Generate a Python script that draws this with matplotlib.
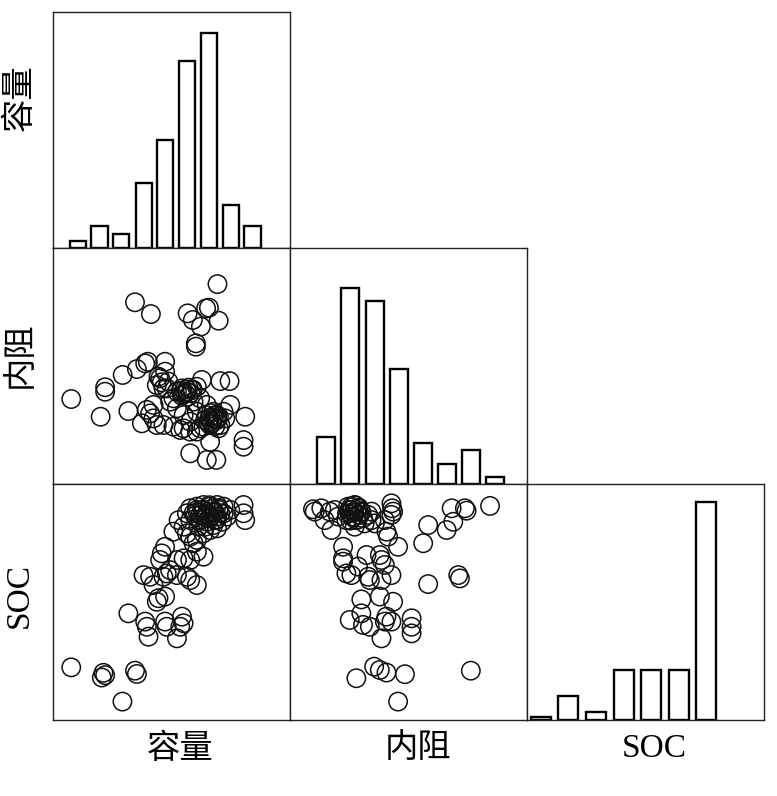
import matplotlib
matplotlib.use("Agg")
import matplotlib.pyplot as plt
import numpy as np

plt.rcParams['font.family'] = ['Liberation Serif', 'Noto Sans CJK SC', 'DejaVu Sans']

names = ["容量", "内阻", "SOC"]

cap_bins = [10.5, 19.6, 28.7, 38.4, 47.3, 56.5, 65.8, 75.1, 84.2]
cap_counts = [1, 3, 2, 9, 15, 26, 30, 6, 3]
res_bins = [15.2, 25.3, 35.9, 46.0, 56.1, 66.2, 76.4, 86.5]
res_counts = [7, 29, 27, 17, 6, 3, 5, 1]
soc_bins = [5.9, 17.3, 29.1, 40.9, 52.5, 64.1, 75.7]
soc_counts = [1, 9, 3, 19, 19, 19, 82]

# 容量 vs 内阻
cap_res_x = [69.4, 34.6, 41.3, 56.8, 64.6, 65.8, 59.0, 69.9, 62.4, 60.3, 60.3, 7.7, 22.0, 22.0,
             20.1, 29.4, 35.4, 38.9, 40.0, 47.3, 47.3, 43.8, 45.9, 48.0, 54.4, 56.5, 58.6, 60.7,
             62.8, 70.6, 74.5, 31.8, 37.5, 39.6, 42.4, 46.6, 49.4, 52.3, 55.1, 57.9, 64.9, 67.7,
             69.2, 66.3, 64.2, 70.6, 72.7, 74.8, 81.1, 80.4, 80.4, 57.9, 64.9, 68.9, 66.3, 55.1,
             57.9, 62.1, 55.8, 57.2, 54.4, 52.3, 50.8, 45.2, 46.6, 48.7, 67.7, 67.0, 69.2, 64.9,
             72.0, 63.5, 69.9, 60.7, 50.8, 53.7, 42.4, 41.0, 43.8, 59.3, 62.1, 60.7, 44.5,
             55.0, 56.5, 58.0, 57.0, 54.0, 59.0, 66.0, 68.0, 67.0, 69.0, 65.5, 68.5, 66.5, 70.0]
cap_res_y = [84.7, 77.0, 72.0, 72.3, 74.4, 74.7, 69.5, 69.2, 66.7, 59.6, 58.2, 36.0, 41.0, 39.1,
             28.5, 46.2, 48.7, 51.1, 51.8, 51.8, 47.6, 41.9, 43.1, 40.5, 40.5, 39.1, 39.8, 41.2,
             44.1, 43.6, 43.6, 30.9, 25.7, 31.4, 33.5, 25.0, 34.9, 32.1, 29.2, 26.4, 33.5, 30.6,
             27.8, 25.0, 27.1, 25.0, 27.8, 33.5, 28.5, 18.6, 15.8, 13.0, 10.2, 10.2, 17.9, 23.6,
             22.2, 23.6, 38.4, 40.8, 37.4, 39.1, 36.3, 44.8, 40.5, 43.4, 27.8, 25.7, 29.2, 29.2,
             30.6, 24.3, 23.6, 22.2, 24.3, 22.9, 27.8, 29.9, 25.0, 34.9, 36.3, 30.6, 45.5,
             38.0, 40.0, 38.5, 37.0, 39.5, 40.0, 28.0, 29.0, 26.5, 27.0, 26.0, 24.5, 30.0, 28.5]

# 容量 vs SOC
cap_soc_x = [7.7, 21.3, 20.6, 22.0, 34.6, 35.4, 29.3, 31.8, 38.9, 39.6, 40.3, 47.3, 48.0, 52.3,
             54.4, 55.1, 53.7, 43.8, 44.5, 47.3, 38.2, 41.0, 42.4, 46.6, 48.0, 49.4, 52.3, 56.5,
             60.7, 57.9, 45.2, 45.9, 47.3, 52.3, 55.1, 57.9, 60.7, 63.5, 59.3, 60.7, 50.8, 53.0,
             55.1, 56.5, 57.9, 63.5, 66.3, 69.2, 57.9, 60.7, 63.5, 66.3, 69.2, 72.0, 74.8, 59.3,
             62.1, 64.9, 67.7, 70.6, 73.4, 62.1, 64.9, 68.4, 71.3, 60.7, 63.5, 66.3, 69.2, 56.5,
             57.9, 61.4, 64.2, 67.7, 70.0, 80.4, 80.4, 81.1,
             61.0, 63.0, 65.0, 67.0, 68.0, 66.0, 62.0, 64.0, 70.0, 72.0, 60.0, 66.0, 69.0]
cap_soc_y = [22.3, 20.0, 18.0, 19.0, 20.9, 19.5, 7.8, 45.2, 41.7, 39.5, 35.3, 41.7, 39.5, 34.6,
             43.8, 41.0, 39.5, 50.1, 51.6, 52.3, 61.4, 60.7, 57.2, 60.7, 62.1, 63.5, 61.4, 60.7,
             57.2, 59.3, 67.8, 70.6, 73.4, 67.8, 68.5, 67.8, 71.3, 69.2, 74.9, 76.3, 79.8, 84.7,
             81.9, 79.1, 77.7, 79.1, 80.5, 81.2, 89.7, 90.4, 91.1, 90.4, 91.1, 90.4, 89.0, 87.6,
             86.9, 87.6, 88.3, 87.6, 86.2, 84.7, 84.0, 84.7, 84.0, 89.0, 89.0, 86.2, 86.2, 87.6,
             84.7, 81.9, 81.9, 82.6, 89.7, 91.1, 87.6, 84.7,
             88.0, 89.0, 87.0, 89.5, 88.0, 85.5, 85.0, 86.0, 89.0, 87.5, 86.5, 91.0, 85.0]

# 内阻 vs SOC
res_soc_x = [9.7, 10.4, 13.2, 14.6, 16.8, 17.5, 18.9, 20.3, 24.5, 25.9, 27.3, 28.7, 30.1, 25.2,
             26.6, 28.0, 29.4, 30.8, 23.8, 27.3, 31.5, 33.0, 34.4, 35.8, 34.4, 42.8, 43.1, 43.5,
             42.8, 40.0, 40.7, 41.4, 45.6, 58.3, 56.2, 66.1, 68.9, 68.2, 73.8, 74.5, 84.4, 22.4,
             22.4, 22.4, 23.8, 25.9, 28.7, 32.3, 33.7, 33.0, 37.9, 38.6, 40.0, 42.8, 38.6, 58.3,
             71.0, 71.7, 30.1, 37.9, 43.5, 25.2, 30.1, 30.8, 33.7, 40.7, 40.0, 42.8, 38.6, 51.3,
             51.3, 51.3, 28.0, 35.5, 37.9, 40.7, 48.5, 76.3, 45.6,
             25.0, 26.0, 27.0, 28.0, 29.0, 26.5, 28.5, 24.0, 27.5, 30.0, 25.5, 29.0]
res_soc_y = [89.3, 88.3, 89.7, 84.7, 88.3, 80.5, 89.0, 86.2, 90.4, 89.0, 91.1, 89.7, 88.3, 87.6,
             86.2, 84.7, 86.9, 85.5, 84.7, 81.9, 83.3, 86.9, 84.7, 83.3, 88.3, 91.8, 89.7, 88.3,
             86.9, 84.7, 79.8, 77.7, 73.4, 82.6, 74.9, 80.5, 84.0, 89.7, 89.7, 88.7, 90.7, 73.4,
             68.5, 67.1, 62.1, 61.4, 65.0, 69.9, 59.3, 60.7, 69.9, 67.8, 65.7, 61.4, 59.3, 57.6,
             61.4, 60.0, 51.1, 52.3, 50.1, 42.4, 45.2, 40.3, 39.5, 43.8, 41.7, 41.7, 34.6, 43.1,
             39.5, 36.7, 17.7, 22.6, 21.2, 20.1, 19.4, 20.9, 7.8,
             89.0, 90.5, 88.0, 89.0, 87.0, 86.0, 85.0, 87.5, 91.0, 88.0, 84.5, 90.0]

W = 777
H = 796
fig = plt.figure(figsize=(W / 100, H / 100), dpi=100)

left = 53
size_w = 237
tops = [12, 248, 484]
size_h = 236


def make_ax(row, col):
    x0 = (left + col * size_w) / W
    y0 = 1 - (tops[row] + size_h) / H
    ax = fig.add_axes([x0, y0, size_w / W, size_h / H])
    ax.set_xticks([])
    ax.set_yticks([])
    for s in ax.spines.values():
        s.set_linewidth(1.0)
        s.set_color("#222222")
    ax.set_xlim(0, 100)
    return ax


def hist_panel(ax, bins, counts, width, top):
    ax.bar(bins, counts, width=width, color="white", edgecolor="black", linewidth=1.7)
    ax.set_ylim(0, top)


def scatter_panel(ax, x, y):
    ax.scatter(x, y, s=175, facecolors="none", edgecolors="#111111", linewidths=1.1)
    ax.set_ylim(0, 100)


ax = make_ax(0, 0)
hist_panel(ax, cap_bins, cap_counts, 6.8, 32.9)

ax = make_ax(1, 0)
scatter_panel(ax, cap_res_x, cap_res_y)
ax = make_ax(1, 1)
hist_panel(ax, res_bins, res_counts, 7.6, 34.9)

ax = make_ax(2, 0)
scatter_panel(ax, cap_soc_x, cap_soc_y)
ax = make_ax(2, 1)
scatter_panel(ax, res_soc_x, res_soc_y)
ax = make_ax(2, 2)
hist_panel(ax, soc_bins, soc_counts, 8.4, 88.8)

# labels
ylab_pos = [98, 355, 595]
for name, yp in zip(names, ylab_pos):
    fig.text(20 / W, 1 - yp / H, name, rotation=90, ha="center", va="center", fontsize=24)
xlab_pos = [180, 418, 654]
for name, xp in zip(names, xlab_pos):
    fig.text(xp / W, 1 - 749 / H, name, ha="center", va="center", fontsize=24)

fig.savefig("out.png", dpi=100, facecolor="white")
